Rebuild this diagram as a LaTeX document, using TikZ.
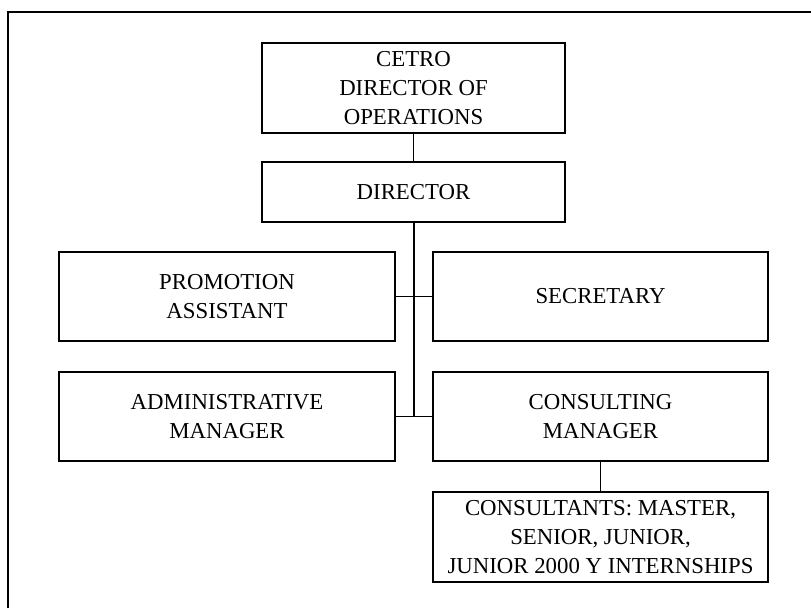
\documentclass[tikz,border=0pt]{standalone}
\usepackage{fontspec}
\setmainfont{Liberation Serif}
\begin{document}
\begin{tikzpicture}[x={(1pt,0pt)},y={(0pt,-1pt)},
  box/.style={draw=black,line width=1.2pt,rectangle,inner sep=0pt,align=center,
    font=\fontsize{22.8}{29}\selectfont},
  link/.style={draw=black,line width=1.2pt}]
\useasboundingbox (0,0) rectangle (811,608);
\draw[line width=1.6pt] (8,608) -- (8,12) -- (811,12);
\node[box,minimum width=303pt,minimum height=90pt] (top) at (413.5,88) {CETRO\\DIRECTOR OF\\OPERATIONS};
\node[box,minimum width=303pt,minimum height=60pt] (dir) at (413.5,192) {DIRECTOR};
\node[box,minimum width=336pt,minimum height=89pt] (pro) at (227,296.5) {PROMOTION\\ASSISTANT};
\node[box,minimum width=335pt,minimum height=89pt] (sec) at (600.5,296.5) {SECRETARY};
\node[box,minimum width=336pt,minimum height=89pt] (adm) at (227,416.5) {ADMINISTRATIVE\\MANAGER};
\node[box,minimum width=335pt,minimum height=89pt] (con) at (600.5,416.5) {CONSULTING\\MANAGER};
\node[box,minimum width=335pt,minimum height=90pt] (cst) at (600.5,537) {CONSULTANTS: MASTER,\\SENIOR, JUNIOR,\\JUNIOR 2000 Y INTERNSHIPS};
\coordinate (tend) at (414,416.5);
\draw[link] (top.south) -- (dir.north);
\draw[link] (dir.south -| tend) -- (tend);
\draw[link] (pro.east) -- (sec.west);
\draw[link] (adm.east) -- (con.west);
\draw[link] (con.south) -- (cst.north);
\end{tikzpicture}
\end{document}
